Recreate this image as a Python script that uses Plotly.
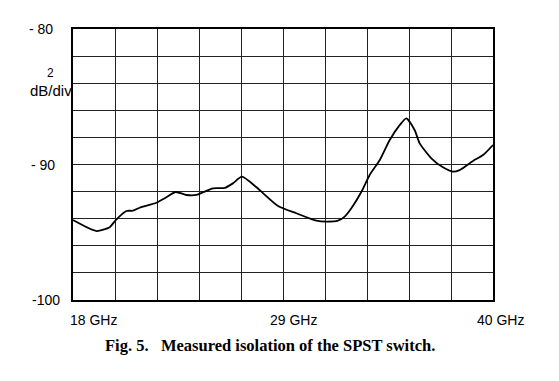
import plotly.graph_objects as go

freq_ghz = [18.0, 19.23, 19.92, 20.24, 20.80, 21.14, 21.49, 22.37, 22.89, 23.38, 23.94, 24.46,
            25.33, 25.95, 26.38, 26.85, 27.61, 28.74, 29.70, 30.75, 31.27, 31.88, 32.23, 32.58,
            33.11, 33.54, 34.07, 34.59, 35.12, 35.46, 35.90, 36.16, 36.77, 37.38, 37.90, 38.25,
            38.95, 39.48, 40.0]
isolation_db = [-94.10, -94.91, -94.63, -94.10, -93.43, -93.41, -93.19, -92.82, -92.42, -92.03,
                -92.25, -92.25, -91.76, -91.73, -91.39, -90.90, -91.68, -93.06, -93.60, -94.15,
                -94.22, -94.15, -93.85, -93.23, -92.01, -90.77, -89.67, -88.19, -87.08, -86.59,
                -87.47, -88.44, -89.54, -90.21, -90.53, -90.41, -89.74, -89.30, -88.56]

y_tick_vals = [-80, -90, -100]
y_tick_text = ["- 80", "- 90", "-100"]
x_tick_vals = [18, 29, 40]
x_tick_text = ["18 GHz", "29 GHz", "40 GHz"]
scale_label = ["2", "dB/div"]
caption = "Fig. 5.   Measured isolation of the SPST switch."

fig = go.Figure()
fig.add_trace(go.Scatter(x=freq_ghz, y=isolation_db, mode="lines",
                         line=dict(color="black", width=1.8, shape="spline", smoothing=0.6),
                         showlegend=False, hoverinfo="skip"))

fig.update_layout(
    width=551, height=373,
    margin=dict(l=65, r=66, t=21, b=81),
    paper_bgcolor="white", plot_bgcolor="white",
    xaxis=dict(range=[18, 40], tick0=18, dtick=2.2, showgrid=True, gridcolor="#222",
               gridwidth=1.2, showticklabels=False, zeroline=False, showline=True,
               linecolor="black", linewidth=2, mirror=True, ticks=""),
    yaxis=dict(range=[-100, -80], tick0=-100, dtick=2, showgrid=True, gridcolor="#222",
               gridwidth=1.2, showticklabels=False, zeroline=False, showline=True,
               linecolor="black", linewidth=2, mirror=True, ticks=""),
    font=dict(family="Liberation Sans", color="black"),
)

y_shifts = [-18, -16, -11]
for v, t, s in zip(y_tick_vals, y_tick_text, y_shifts):
    fig.add_annotation(x=0, xref="paper", y=v, yref="y", text=t, showarrow=False,
                       xanchor="right", xshift=s, yshift=0,
                       font=dict(family="Liberation Sans", size=14, color="black"))

anchors = ["left", "center", "left"]
shifts = [-5, 10, -18]
for v, t, a, s in zip(x_tick_vals, x_tick_text, anchors, shifts):
    fig.add_annotation(x=v, xref="x", y=0, yref="paper", text=t, showarrow=False,
                       xanchor=a, yanchor="top", yshift=-10, xshift=s,
                       font=dict(family="Liberation Sans", size=14, color="black"))

fig.add_annotation(x=0, xref="paper", y=-83.99, yref="y", text=scale_label[0], showarrow=False,
                   xanchor="center", xshift=-23, yanchor="bottom", yshift=2, borderpad=0,
                   font=dict(family="Liberation Sans", size=12, color="black"))
fig.add_annotation(x=0, xref="paper", y=-83.99, yref="y", text=scale_label[1], showarrow=False,
                   xanchor="right", xshift=0, yanchor="top", yshift=2, borderpad=0,
                   font=dict(family="Liberation Sans", size=15, color="black"))

fig.add_annotation(x=0.47, xref="paper", y=0, yref="paper", text="<b>" + caption + "</b>",
                   showarrow=False, xanchor="center", yanchor="top", yshift=-34,
                   font=dict(family="Liberation Serif", size=16.5, color="black"))

fig.write_html("out.html")
